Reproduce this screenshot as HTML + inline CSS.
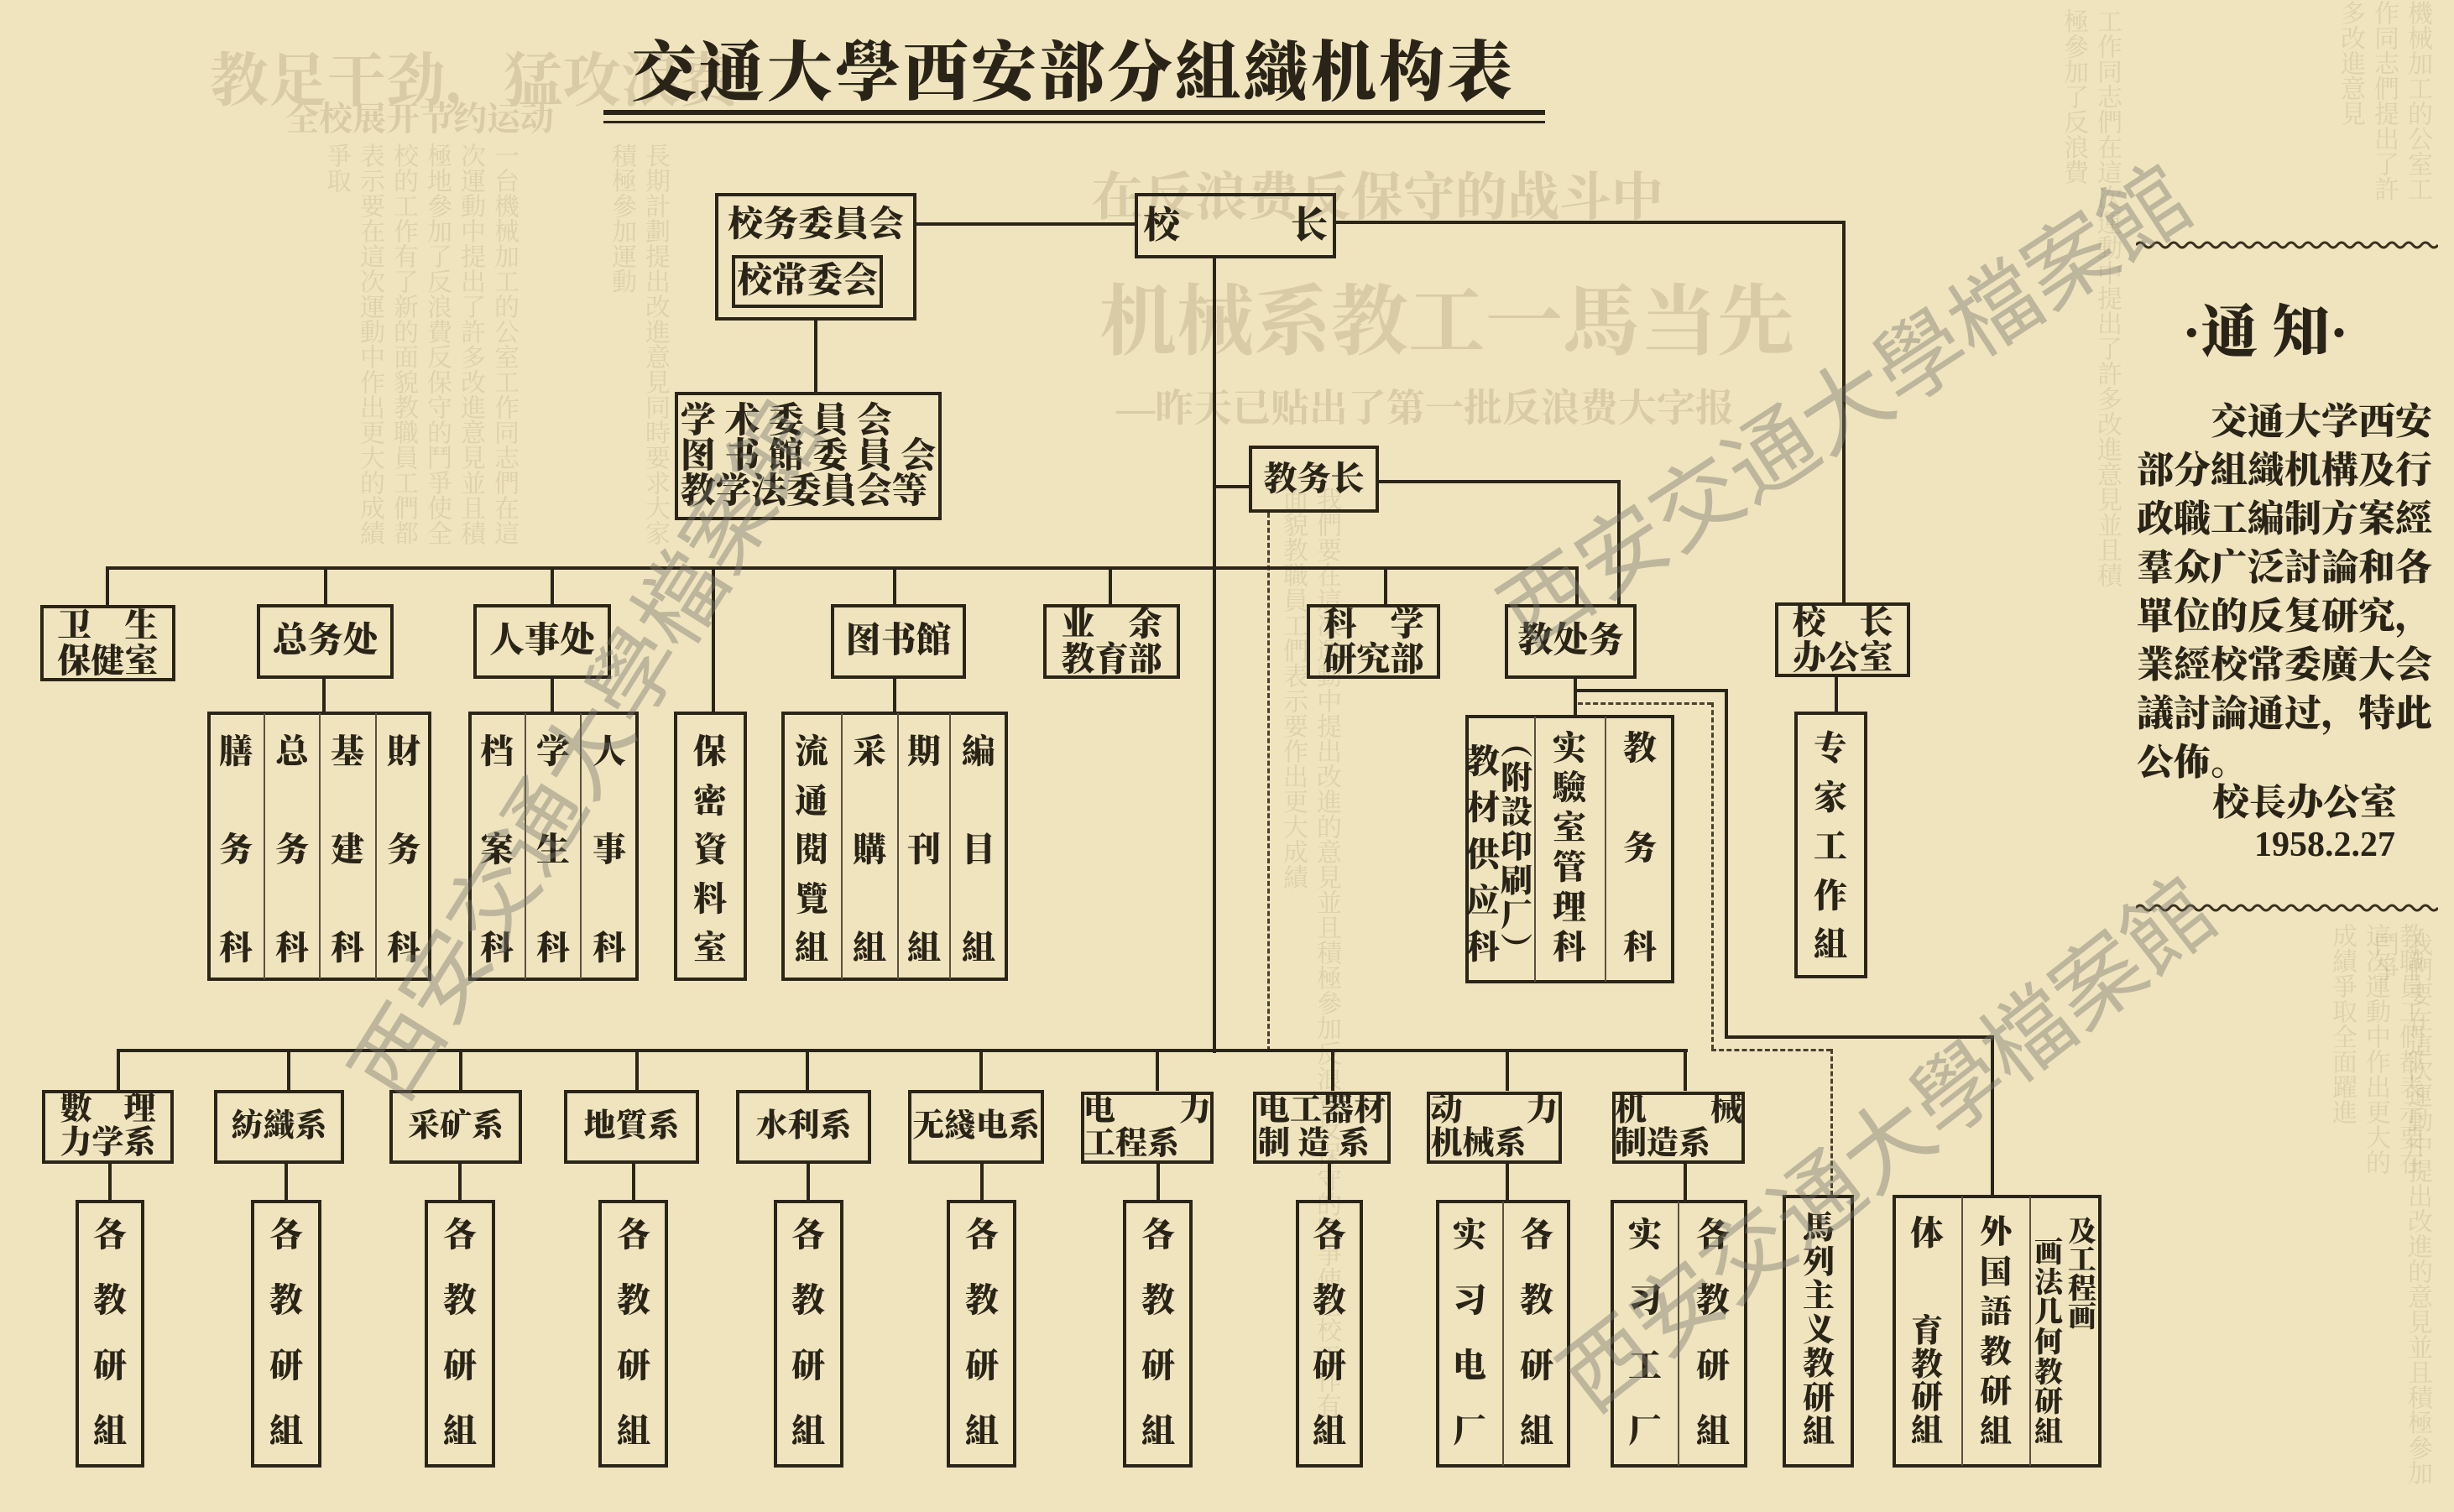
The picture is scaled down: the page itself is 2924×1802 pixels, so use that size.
<!DOCTYPE html>
<html><head><meta charset="utf-8">
<style>
html,body{margin:0;padding:0;width:2924px;height:1802px;overflow:hidden}
#w{position:relative;width:2924px;height:1802px;overflow:hidden;background:#efe4bd;font-family:"Liberation Serif","Noto Serif CJK SC",serif;color:#2a2418}
.b{position:absolute;border:4px solid #2b2519;box-sizing:border-box}
.h{position:absolute;height:4px;background:#2b2519}
.v{position:absolute;width:4px;background:#2b2519}
.tv{position:absolute;width:2px;background:#5a5040}
.col{position:absolute;display:flex;flex-direction:column;justify-content:space-between;align-items:center;font-size:40px;line-height:1;font-weight:900;width:60px}
.lbl{position:absolute;display:flex;flex-direction:column;justify-content:center;align-items:center;font-size:40px;line-height:1.05;font-weight:900;white-space:pre}
.dh{position:absolute;height:0;border-top:3px dashed #4a4030}
.dv{position:absolute;width:0;border-left:3px dashed #4a4030}
.faint{position:absolute;color:#d8cba6;font-weight:700;white-space:nowrap}
.ft{position:absolute;color:rgba(90,75,40,0.12);font-size:30px;line-height:40px;writing-mode:vertical-rl;overflow:hidden}
.wm{position:absolute;width:1000px;height:130px;line-height:130px;text-align:center;color:rgba(120,118,110,0.42);font-family:"WenQuanYi Zen Hei",sans-serif;font-size:106px;white-space:nowrap;transform-origin:center;overflow:hidden}
</style></head><body><div id="w">

<div class="faint" style="left:1300px;top:185px;font-size:62px;">在反浪费反保守的战斗中</div>
<div class="faint" style="left:1310px;top:310px;font-size:92px;">机械系教工一馬当先</div>
<div class="faint" style="left:1330px;top:450px;font-size:46px;">—昨天已贴出了第一批反浪费大字报</div>
<div class="faint" style="left:250px;top:40px;font-size:70px;">教足干劲，猛攻浪费</div>
<div class="faint" style="left:340px;top:110px;font-size:40px;">全校展开节约运动</div>
<div class="ft" style="left:20px;top:170px;height:500px;width:600px;">一台機械加工的公室工作同志們在這次運動中提出了許多改進意見並且積極地參加了反浪費反保守的鬥爭使全校的工作有了新的面貌教職員工們都表示要在這次運動中作出更大的成績爭取</div>
<div class="ft" style="left:620px;top:170px;height:480px;width:180px;">長期計劃提出改進意見同時要求大家積極參加運動</div>
<div class="ft" style="left:1200px;top:580px;height:1150px;width:400px;">我們要在這次運動中提出改進的意見並且積極參加反浪費反保守的鬥爭使全校工作有新面貌教職員工們表示要作出更大成績</div>
<div class="ft" style="left:2250px;top:10px;height:700px;width:280px;">工作同志們在這次運動中提出了許多改進意見並且積極參加了反浪費</div>
<div class="ft" style="left:2330px;top:1100px;height:300px;width:560px;">教職員工們都表示要在這次運動中作出更大的成績爭取全面躍進</div>
<div class="ft" style="left:2540px;top:0px;height:240px;width:360px;">機械加工的公室工作同志們提出了許多改進意見</div>
<div class="ft" style="left:2520px;top:1110px;height:680px;width:380px;">我們要在這次運動中提出改進的意見並且積極參加鬥爭</div>

<div style="position:absolute;left:752px;top:42px;font-size:78px;font-weight:900;letter-spacing:3px;line-height:90px;white-space:nowrap;">交通大學西安部分組織机构表</div>
<div class="h" style="left:719px;top:131px;width:1122px;height:6px;"></div>
<div class="h" style="left:719px;top:144px;width:1122px;height:3px;"></div>

<div class="b" style="left:852px;top:230px;width:240px;height:152px;"></div>
<div class="lbl" style="left:852px;top:238px;width:240px;height:60px;font-size:42px;">校务委員会</div>
<div class="b" style="left:872px;top:304px;width:180px;height:63px;"></div>
<div class="lbl" style="left:872px;top:304px;width:180px;height:63px;font-size:42px;">校常委会</div>
<div class="h" style="left:1092px;top:265px;width:262px;"></div>
<div class="b" style="left:1352px;top:230px;width:240px;height:78px;"></div>
<div class="lbl" style="left:1352px;top:230px;width:240px;height:78px;font-size:44px;">校　　　长</div>
<div class="h" style="left:1590px;top:263px;width:609px;"></div>
<div class="v" style="left:2195px;top:263px;height:457px;"></div>
<div class="v" style="left:970px;top:382px;height:86px;"></div>
<div class="b" style="left:804px;top:467px;width:318px;height:153px;"></div>
<div class="lbl" style="left:804px;top:467px;width:318px;height:153px;font-size:42px;line-height:1;">学 术 委 員 会
图 书 館 委 員 会
教学法委員会等</div>

<div class="v" style="left:1445px;top:307px;height:948px;"></div>
<div class="h" style="left:1445px;top:578px;width:45px;"></div>
<div class="b" style="left:1488px;top:531px;width:155px;height:80px;"></div>
<div class="lbl" style="left:1488px;top:531px;width:155px;height:80px;font-size:40px;">教务长</div>
<div class="dv" style="left:1510px;top:611px;height:642px;"></div>
<div class="h" style="left:1641px;top:572px;width:290px;"></div>
<div class="v" style="left:1927px;top:572px;height:148px;"></div>

<div class="h" style="left:126px;top:675px;width:1755px;"></div>
<div class="v" style="left:1877px;top:675px;height:45px;"></div>
<div class="v" style="left:126px;top:675px;height:47px;"></div>
<div class="v" style="left:386px;top:675px;height:46px;"></div>
<div class="v" style="left:656px;top:675px;height:46px;"></div>
<div class="v" style="left:848px;top:675px;height:174px;"></div>
<div class="v" style="left:1064px;top:675px;height:46px;"></div>
<div class="v" style="left:1321px;top:675px;height:46px;"></div>
<div class="v" style="left:1649px;top:675px;height:46px;"></div>

<div class="b" style="left:48px;top:721px;width:161px;height:91px;"></div>
<div class="lbl" style="left:48px;top:721px;width:161px;height:91px;">卫　生
保健室</div>
<div class="b" style="left:306px;top:720px;width:163px;height:89px;"></div>
<div class="lbl" style="left:306px;top:720px;width:163px;height:89px;font-size:42px;">总务处</div>
<div class="b" style="left:564px;top:720px;width:164px;height:89px;"></div>
<div class="lbl" style="left:564px;top:720px;width:164px;height:89px;font-size:42px;">人事处</div>
<div class="b" style="left:990px;top:720px;width:161px;height:89px;"></div>
<div class="lbl" style="left:990px;top:720px;width:161px;height:89px;font-size:42px;">图书館</div>
<div class="b" style="left:1243px;top:720px;width:163px;height:89px;"></div>
<div class="lbl" style="left:1243px;top:720px;width:163px;height:89px;">业　余
教育部</div>
<div class="b" style="left:1557px;top:720px;width:159px;height:89px;"></div>
<div class="lbl" style="left:1557px;top:720px;width:159px;height:89px;">科　学
研究部</div>
<div class="b" style="left:1793px;top:720px;width:157px;height:89px;"></div>
<div class="lbl" style="left:1793px;top:720px;width:157px;height:89px;font-size:42px;">教处务</div>
<div class="b" style="left:2115px;top:718px;width:161px;height:89px;"></div>
<div class="lbl" style="left:2115px;top:718px;width:161px;height:89px;">校　长
办公室</div>

<div class="v" style="left:384px;top:809px;height:40px;"></div>
<div class="v" style="left:656px;top:809px;height:40px;"></div>
<div class="v" style="left:1064px;top:809px;height:40px;"></div>
<div class="v" style="left:1875px;top:809px;height:44px;"></div>
<div class="v" style="left:2186px;top:807px;height:42px;"></div>
<div class="h" style="left:1875px;top:821px;width:184px;"></div>
<div class="v" style="left:2055px;top:821px;height:417px;"></div>
<div class="h" style="left:2055px;top:1234px;width:321px;"></div>
<div class="v" style="left:2372px;top:1234px;height:192px;"></div>
<div class="dh" style="left:1880px;top:837px;width:160px;"></div>
<div class="dv" style="left:2039px;top:837px;height:414px;"></div>
<div class="dh" style="left:2039px;top:1250px;width:143px;"></div>
<div class="dv" style="left:2181px;top:1250px;height:175px;"></div>

<div class="b" style="left:247px;top:848px;width:267px;height:321px;"></div>
<div class="tv" style="left:314px;top:850px;height:317px;"></div>
<div class="tv" style="left:380px;top:850px;height:317px;"></div>
<div class="tv" style="left:447px;top:850px;height:317px;"></div>
<div class="col" style="left:251px;top:876px;height:274px;"><span>膳</span><span>务</span><span>科</span></div>
<div class="col" style="left:318px;top:876px;height:274px;"><span>总</span><span>务</span><span>科</span></div>
<div class="col" style="left:384px;top:876px;height:274px;"><span>基</span><span>建</span><span>科</span></div>
<div class="col" style="left:451px;top:876px;height:274px;"><span>財</span><span>务</span><span>科</span></div>

<div class="b" style="left:558px;top:848px;width:203px;height:321px;"></div>
<div class="tv" style="left:625px;top:850px;height:317px;"></div>
<div class="tv" style="left:691px;top:850px;height:317px;"></div>
<div class="col" style="left:562px;top:876px;height:274px;"><span>档</span><span>案</span><span>科</span></div>
<div class="col" style="left:629px;top:876px;height:274px;"><span>学</span><span>生</span><span>科</span></div>
<div class="col" style="left:696px;top:876px;height:274px;"><span>人</span><span>事</span><span>科</span></div>

<div class="b" style="left:803px;top:848px;width:87px;height:321px;"></div>
<div class="col" style="left:816px;top:876px;height:274px;"><span>保</span><span>密</span><span>資</span><span>料</span><span>室</span></div>

<div class="b" style="left:931px;top:848px;width:270px;height:321px;"></div>
<div class="tv" style="left:1002px;top:850px;height:317px;"></div>
<div class="tv" style="left:1069px;top:850px;height:317px;"></div>
<div class="tv" style="left:1131px;top:850px;height:317px;"></div>
<div class="col" style="left:937px;top:876px;height:274px;"><span>流</span><span>通</span><span>閱</span><span>覽</span><span>組</span></div>
<div class="col" style="left:1006px;top:876px;height:274px;"><span>采</span><span>購</span><span>組</span></div>
<div class="col" style="left:1071px;top:876px;height:274px;"><span>期</span><span>刊</span><span>組</span></div>
<div class="col" style="left:1136px;top:876px;height:274px;"><span>編</span><span>目</span><span>組</span></div>

<div class="b" style="left:1746px;top:852px;width:249px;height:320px;"></div>
<div class="tv" style="left:1828px;top:854px;height:316px;"></div>
<div class="tv" style="left:1912px;top:854px;height:316px;"></div>
<div class="col" style="left:1737px;top:888px;height:261px;"><span>教</span><span>材</span><span>供</span><span>应</span><span>科</span></div>
<div class="col" style="left:1777px;top:868px;height:284px;font-size:38px;"><span>︵</span><span>附</span><span>設</span><span>印</span><span>刷</span><span>厂</span><span>︶</span></div>
<div class="col" style="left:1840px;top:872px;height:277px;"><span>实</span><span>驗</span><span>室</span><span>管</span><span>理</span><span>科</span></div>
<div class="col" style="left:1924px;top:872px;height:277px;"><span>教</span><span>务</span><span>科</span></div>

<div class="b" style="left:2138px;top:848px;width:87px;height:318px;"></div>
<div class="col" style="left:2151px;top:872px;height:274px;"><span>专</span><span>家</span><span>工</span><span>作</span><span>組</span></div>

<div class="h" style="left:139px;top:1250px;width:1872px;"></div>
<div class="v" style="left:139px;top:1250px;height:50px;"></div>
<div class="v" style="left:342px;top:1250px;height:50px;"></div>
<div class="v" style="left:547px;top:1250px;height:50px;"></div>
<div class="v" style="left:757px;top:1250px;height:50px;"></div>
<div class="v" style="left:960px;top:1250px;height:50px;"></div>
<div class="v" style="left:1167px;top:1250px;height:50px;"></div>
<div class="v" style="left:1377px;top:1250px;height:50px;"></div>
<div class="v" style="left:1586px;top:1250px;height:50px;"></div>
<div class="v" style="left:1794px;top:1250px;height:50px;"></div>
<div class="v" style="left:2006px;top:1250px;height:50px;"></div>

<div class="b" style="left:50px;top:1299px;width:157px;height:88px;"></div>
<div class="lbl" style="left:50px;top:1299px;width:157px;height:88px;font-size:38px;">數　理
力学系</div>
<div class="b" style="left:255px;top:1299px;width:155px;height:88px;"></div>
<div class="lbl" style="left:255px;top:1299px;width:155px;height:88px;font-size:38px;">紡織系</div>
<div class="b" style="left:464px;top:1299px;width:158px;height:88px;"></div>
<div class="lbl" style="left:464px;top:1299px;width:158px;height:88px;font-size:38px;">采矿系</div>
<div class="b" style="left:672px;top:1299px;width:161px;height:88px;"></div>
<div class="lbl" style="left:672px;top:1299px;width:161px;height:88px;font-size:38px;">地質系</div>
<div class="b" style="left:877px;top:1299px;width:161px;height:88px;"></div>
<div class="lbl" style="left:877px;top:1299px;width:161px;height:88px;font-size:38px;">水利系</div>
<div class="b" style="left:1082px;top:1299px;width:162px;height:88px;"></div>
<div class="lbl" style="left:1082px;top:1299px;width:162px;height:88px;font-size:38px;">无綫电系</div>
<div class="b" style="left:1288px;top:1301px;width:158px;height:86px;"></div>
<div class="lbl" style="left:1288px;top:1301px;width:158px;height:86px;font-size:38px;">电　　力
工程系</div>
<div class="b" style="left:1493px;top:1301px;width:164px;height:86px;"></div>
<div class="lbl" style="left:1493px;top:1301px;width:164px;height:86px;font-size:38px;">电工器材
制 造 系</div>
<div class="b" style="left:1700px;top:1301px;width:161px;height:86px;"></div>
<div class="lbl" style="left:1700px;top:1301px;width:161px;height:86px;font-size:38px;">动　　力
机械系</div>
<div class="b" style="left:1921px;top:1301px;width:158px;height:86px;"></div>
<div class="lbl" style="left:1921px;top:1301px;width:158px;height:86px;font-size:38px;">机　　械
制造系</div>

<div class="v" style="left:129px;top:1387px;height:44px;"></div>
<div class="v" style="left:339px;top:1387px;height:44px;"></div>
<div class="v" style="left:546px;top:1387px;height:44px;"></div>
<div class="v" style="left:753px;top:1387px;height:44px;"></div>
<div class="v" style="left:961px;top:1387px;height:44px;"></div>
<div class="v" style="left:1168px;top:1387px;height:44px;"></div>
<div class="v" style="left:1378px;top:1387px;height:44px;"></div>
<div class="v" style="left:1582px;top:1387px;height:44px;"></div>
<div class="v" style="left:1794px;top:1387px;height:44px;"></div>
<div class="v" style="left:2006px;top:1387px;height:44px;"></div>

<div class="b" style="left:90px;top:1430px;width:82px;height:319px;"></div>
<div class="col" style="left:101px;top:1452px;height:274px;"><span>各</span><span>教</span><span>研</span><span>組</span></div>
<div class="b" style="left:299px;top:1430px;width:84px;height:319px;"></div>
<div class="col" style="left:311px;top:1452px;height:274px;"><span>各</span><span>教</span><span>研</span><span>組</span></div>
<div class="b" style="left:506px;top:1430px;width:84px;height:319px;"></div>
<div class="col" style="left:518px;top:1452px;height:274px;"><span>各</span><span>教</span><span>研</span><span>組</span></div>
<div class="b" style="left:713px;top:1430px;width:83px;height:319px;"></div>
<div class="col" style="left:725px;top:1452px;height:274px;"><span>各</span><span>教</span><span>研</span><span>組</span></div>
<div class="b" style="left:922px;top:1430px;width:83px;height:319px;"></div>
<div class="col" style="left:933px;top:1452px;height:274px;"><span>各</span><span>教</span><span>研</span><span>組</span></div>
<div class="b" style="left:1128px;top:1430px;width:83px;height:319px;"></div>
<div class="col" style="left:1140px;top:1452px;height:274px;"><span>各</span><span>教</span><span>研</span><span>組</span></div>
<div class="b" style="left:1338px;top:1430px;width:83px;height:319px;"></div>
<div class="col" style="left:1350px;top:1452px;height:274px;"><span>各</span><span>教</span><span>研</span><span>組</span></div>
<div class="b" style="left:1544px;top:1430px;width:80px;height:319px;"></div>
<div class="col" style="left:1554px;top:1452px;height:274px;"><span>各</span><span>教</span><span>研</span><span>組</span></div>

<div class="b" style="left:1711px;top:1430px;width:160px;height:319px;"></div>
<div class="tv" style="left:1790px;top:1432px;height:315px;"></div>
<div class="col" style="left:1721px;top:1452px;height:274px;"><span>实</span><span>习</span><span>电</span><span>厂</span></div>
<div class="col" style="left:1801px;top:1452px;height:274px;"><span>各</span><span>教</span><span>研</span><span>組</span></div>
<div class="b" style="left:1919px;top:1430px;width:163px;height:319px;"></div>
<div class="tv" style="left:1999px;top:1432px;height:315px;"></div>
<div class="col" style="left:1930px;top:1452px;height:274px;"><span>实</span><span>习</span><span>工</span><span>厂</span></div>
<div class="col" style="left:2011px;top:1452px;height:274px;"><span>各</span><span>教</span><span>研</span><span>組</span></div>

<div class="b" style="left:2124px;top:1424px;width:85px;height:325px;"></div>
<div class="col" style="left:2137px;top:1445px;height:281px;font-size:38px;"><span>馬</span><span>列</span><span>主</span><span>义</span><span>教</span><span>研</span><span>組</span></div>

<div class="b" style="left:2255px;top:1424px;width:249px;height:325px;"></div>
<div class="tv" style="left:2337px;top:1426px;height:321px;"></div>
<div class="tv" style="left:2418px;top:1426px;height:321px;"></div>
<div class="col" style="left:2266px;top:1450px;height:40px;"><span>体</span></div>
<div class="col" style="left:2266px;top:1568px;height:157px;font-size:38px;"><span>育</span><span>教</span><span>研</span><span>組</span></div>
<div class="col" style="left:2348px;top:1450px;height:276px;font-size:38px;"><span>外</span><span>国</span><span>語</span><span>教</span><span>研</span><span>組</span></div>
<div class="col" style="left:2411px;top:1477px;height:248px;font-size:34px;"><span>画</span><span>法</span><span>几</span><span>何</span><span>教</span><span>研</span><span>組</span></div>
<div class="col" style="left:2451px;top:1452px;height:130px;font-size:34px;"><span>及</span><span>工</span><span>程</span><span>画</span></div>

<svg style="position:absolute;left:2545px;top:284px;" width="360" height="16"><path d="M0 8 q5 -6 10 0 t10 0 t10 0 t10 0 t10 0 t10 0 t10 0 t10 0 t10 0 t10 0 t10 0 t10 0 t10 0 t10 0 t10 0 t10 0 t10 0 t10 0 t10 0 t10 0 t10 0 t10 0 t10 0 t10 0 t10 0 t10 0 t10 0 t10 0 t10 0 t10 0 t10 0 t10 0 t10 0 t10 0 t10 0 t10 0" fill="none" stroke="#3a3020" stroke-width="3"/></svg>
<div style="position:absolute;left:2600px;top:356px;width:240px;font-size:68px;font-weight:900;line-height:80px;white-space:nowrap;">·通 知·</div>
<div style="position:absolute;left:2546px;top:474px;width:360px;font-size:44px;font-weight:900;line-height:58px;white-space:pre;">　　交通大学西安
部分組織机構及行
政職工編制方案經
羣众广泛討論和各
單位的反复研究，
業經校常委廣大会
議討論通过，特此
公佈。</div>
<div style="position:absolute;left:2636px;top:932px;font-size:44px;font-weight:900;white-space:nowrap;line-height:50px;">校長办公室</div>
<div style="position:absolute;left:2686px;top:982px;font-size:42px;font-weight:700;white-space:nowrap;line-height:50px;">1958.2.27</div>
<svg style="position:absolute;left:2545px;top:1074px;" width="360" height="16"><path d="M0 8 q5 -6 10 0 t10 0 t10 0 t10 0 t10 0 t10 0 t10 0 t10 0 t10 0 t10 0 t10 0 t10 0 t10 0 t10 0 t10 0 t10 0 t10 0 t10 0 t10 0 t10 0 t10 0 t10 0 t10 0 t10 0 t10 0 t10 0 t10 0 t10 0 t10 0 t10 0 t10 0 t10 0 t10 0 t10 0 t10 0 t10 0" fill="none" stroke="#3a3020" stroke-width="3"/></svg>

<div class="wm" style="left:200px;top:830px;transform:rotate(-58deg);">西安交通大學檔案館</div>
<div class="wm" style="left:1700px;top:420px;transform:rotate(-33deg);">西安交通大學檔案館</div>
<div class="wm" style="left:1750px;top:1300px;transform:rotate(-38deg);">西安交通大學檔案館</div>
</div></body></html>
